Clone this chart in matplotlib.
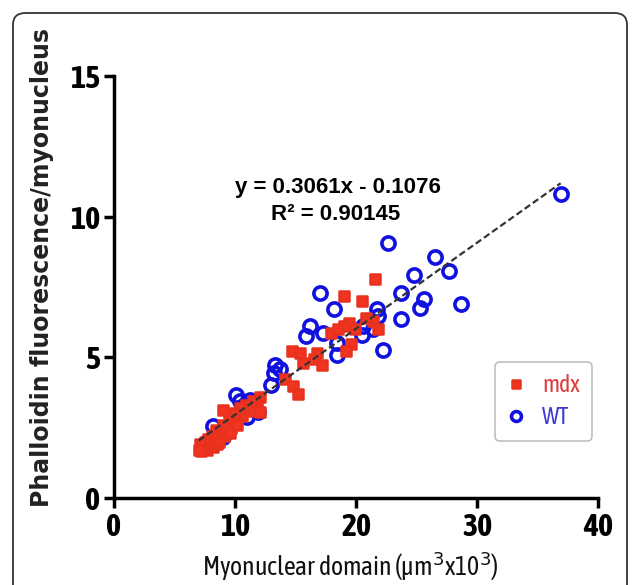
import matplotlib
matplotlib.use("Agg")
import matplotlib.pyplot as plt
from matplotlib import font_manager
from matplotlib.markers import MarkerStyle
from matplotlib.patches import FancyBboxPatch
import numpy as np

# mdx (red) points
mdx_x = [21.6, 19.0, 20.5, 21.4, 19.4, 19.0, 19.9, 17.9, 19.6, 19.2, 14.7, 15.4,
         16.8, 16.5, 17.2, 15.6, 14.1, 14.8, 15.2, 18.5, 20.8, 21.8,
         12.1, 11.8, 12.1, 11.5, 11.2, 10.9, 10.6, 10.4, 10.1, 9.9, 9.7, 9.5,
         9.3, 9.1, 9.0, 9.0, 8.8, 8.6, 8.5, 8.4, 8.3, 8.2, 8.1, 8.0, 7.8, 7.7,
         7.6, 7.5, 7.3, 7.2, 7.1, 7.0, 8.7, 9.6, 10.2]
mdx_y = [7.77, 7.18, 7.0, 6.29, 6.23, 6.11, 5.99, 5.87, 5.46, 5.22, 5.22, 5.16,
         5.16, 4.92, 4.74, 4.80, 4.21, 3.97, 3.68, 6.0, 6.4, 6.0,
         3.6, 3.31, 3.07, 3.45, 3.1, 3.3, 2.9, 3.2, 2.75, 3.0, 2.5, 2.8,
         2.45, 2.2, 2.6, 3.13, 2.3, 2.1, 1.9, 2.4, 1.95, 1.8, 2.2, 1.85, 2.1, 1.7,
         1.8, 2.0, 1.75, 1.65, 1.9, 1.7, 2.0, 2.3, 2.6]

# WT (blue) points
wt_x = [36.9, 22.6, 26.5, 27.7, 24.8, 17.0, 23.7, 25.6, 25.3, 28.7, 18.2, 21.7,
        21.8, 23.7, 16.2, 15.9, 17.3, 18.4, 20.5, 21.4, 20.6, 22.2, 18.4, 13.3,
        13.2, 13.0, 10.1, 10.4, 11.2, 11.0, 11.9, 9.0, 8.2, 13.7]
wt_y = [10.8, 9.05, 8.56, 8.07, 7.94, 7.27, 7.30, 7.08, 6.76, 6.88, 6.70, 6.70,
        6.45, 6.37, 6.11, 5.75, 5.87, 5.5, 5.8, 5.99, 6.1, 5.24, 5.09, 4.73,
        4.44, 4.02, 3.67, 3.45, 3.49, 2.89, 3.07, 2.18, 2.54, 4.57]

slope = 0.3061
intercept = -0.1076
fit_range = [7.0, 36.9]

arial = ['Liberation Sans', 'DejaVu Sans']
# a condensed face for the ticks, one that has a bold weight if possible
fonts = font_manager.fontManager.ttflist
narrow_all = {f.name for f in fonts if 'Narrow' in f.name or 'Condensed' in f.name}
narrow_bold = {f.name for f in fonts if f.name in narrow_all
               and (f.weight in ('bold', 700) or str(f.weight) in ('700', 'bold'))}
pick = sorted(narrow_bold) or sorted(narrow_all)
if 'Liberation Sans Narrow' in pick:
    pick = ['Liberation Sans Narrow']
narrow = pick[:1] + arial
has_narrow = len(pick) > 0
H = 585

fig = plt.figure(figsize=(6.33, 5.85), dpi=100)

# rounded frame round the figure
frame = FancyBboxPatch((13 / 633, -0.05), 614 / 633, 1 - 13 / H + 0.05,
                       boxstyle="round,pad=0,rounding_size=0.02",
                       transform=fig.transFigure, fill=False,
                       edgecolor='#333333', linewidth=1.3)
fig.patches.append(frame)

ax = fig.add_axes([0.180, 0.149, 0.765, 0.721])

red_marker = MarkerStyle('s', joinstyle='round')
ax.plot(mdx_x, mdx_y, linestyle='none', marker=red_marker, markersize=7,
        markerfacecolor='#f0341f', markeredgecolor='#e8321e', markeredgewidth=1.8,
        label='mdx', zorder=3)
ax.plot(wt_x, wt_y, linestyle='none', marker='o', markersize=9.5,
        markerfacecolor='none', markeredgecolor='#1010e0', markeredgewidth=2.6,
        label='WT', zorder=2)

fx = np.array(fit_range)
ax.plot(fx, slope * fx + intercept, color='#333333', linestyle=(0, (3, 1.5)),
        linewidth=1.6, zorder=4)

ax.text(338, H - 187, 'y = 0.3061x - 0.1076', transform=None, fontsize=16,
        fontweight='bold', ha='center', va='center', family=arial)
ax.text(336, H - 214, 'R² = 0.90145', transform=None, fontsize=16,
        fontweight='bold', ha='center', va='center', family=arial)

ax.set_xlim(0, 40)
ax.set_ylim(0, 15)
ax.set_xticks([0, 10, 20, 30, 40])
ax.set_yticks([0, 5, 10, 15])
for s in ['top', 'right']:
    ax.spines[s].set_visible(False)
for s in ['left', 'bottom']:
    ax.spines[s].set_linewidth(2.5)
ax.tick_params(direction='out', length=7, width=2.5, pad=3)
for lab in ax.get_xticklabels() + ax.get_yticklabels():
    lab.set_family(narrow)
    lab.set_fontsize(23 if has_narrow else 19)
    lab.set_fontweight('bold')

leg = ax.legend(loc='upper left', bbox_to_anchor=(0.787, 0.322), frameon=True,
                borderaxespad=0, handletextpad=0.7, borderpad=0.5,
                labelspacing=0.4, handlelength=0.8, fancybox=True,
                markerscale=0.75,
                prop={'family': narrow, 'size': 17 if has_narrow else 15})
leg.get_frame().set_edgecolor('#b0b0b0')
leg.get_frame().set_linewidth(1.2)
leg.get_texts()[0].set_color('#e03a3a')
leg.get_texts()[1].set_color('#3a3ad0')

fig.text(350 / 633, 1 - 566 / H, 'Myonuclear domain (µm$^3$x10$^3$)',
         ha='center', va='center', fontsize=18.5 if has_narrow else 16,
         family=narrow, color='#111111')
fig.text(42 / 633, 1 - 268 / H, 'Phalloidin fluorescence/myonucleus',
         ha='center', va='center', rotation=90, fontsize=17,
         fontweight='bold', color='#222222')

fig.savefig('out.png', dpi=100)
